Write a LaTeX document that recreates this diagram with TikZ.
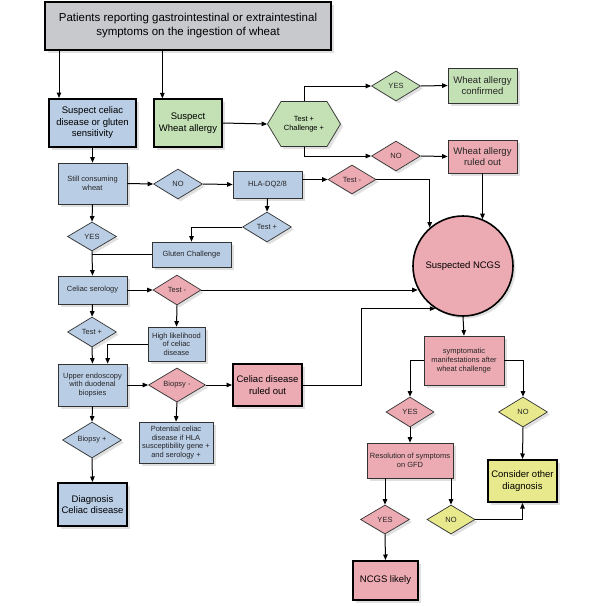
\documentclass[tikz,border=0pt]{standalone}
\usepackage{fontspec}
\setmainfont{Liberation Sans}
\usepackage{tikz}
\usetikzlibrary{shapes.geometric, shapes.symbols, arrows.meta, shadows}
\definecolor{cdblue}{RGB}{185,205,229}
\definecolor{cdpink}{RGB}{236,170,178}
\definecolor{cdgreen}{RGB}{195,225,180}
\definecolor{cdyellow}{RGB}{232,232,140}
\definecolor{cdgray}{RGB}{200,201,204}

\begin{document}
\begin{tikzpicture}[x=1pt, y=-1pt,
    boxshadow/.style={drop shadow={shadow xshift=2.5pt, shadow yshift=-2.5pt, fill=black!20, opacity=0.6}},
    proc/.style={rectangle, draw=black!80, line width=0.7pt, align=center, inner sep=1pt,
      text=black!85, font=\fontsize{7.5}{8.6}\selectfont, boxshadow},
    bigproc/.style={proc, draw=black, line width=2pt, text=black, font=\fontsize{9.5}{11.5}\selectfont},
    choice/.style={diamond, draw=black!80, line width=0.7pt, inner sep=0pt, text=black!85,
      font=\fontsize{7.5}{8.6}\selectfont, boxshadow},
    arr/.style={line width=1pt, -{Triangle[length=5.5pt, width=4.5pt]}},
    link/.style={line width=1pt}
  ]
  \useasboundingbox (0,0) rectangle (603,606);
  % entry boxes
  \node[bigproc, fill=cdgray, minimum width=286pt, minimum height=48pt,
    font=\fontsize{11.5}{14}\selectfont] (top) at (188,26)
    {Patients reporting gastrointestinal or extraintestinal\\symptoms on the ingestion of wheat};
  \node[bigproc, fill=cdblue, minimum width=87pt, minimum height=48pt] (celiac) at (92.5,123)
    {Suspect celiac\\disease or gluten\\sensitivity};
  \node[bigproc, fill=cdgreen, line width=1.3pt, minimum width=68pt, minimum height=48pt] (wheat) at (188,123)
    {Suspect\\Wheat allergy};
  % wheat allergy branch
  \node[signal, signal to=west and east, signal pointer angle=118, draw=black!80, line width=0.7pt,
    fill=cdgreen, align=center, inner sep=1pt, minimum width=73pt, minimum height=45pt,
    font=\fontsize{7.5}{8.6}\selectfont, boxshadow] (testchal) at (304,124) {Test +\\Challenge +};
  \node[choice, fill=cdgreen, minimum width=49pt, minimum height=30pt] (yesA) at (396,86) {YES};
  \node[proc, fill=cdgreen, minimum width=69pt, minimum height=35pt,
    font=\fontsize{9.5}{11.5}\selectfont] (confirmed) at (482.5,85.5) {Wheat allergy\\confirmed};
  \node[choice, fill=cdpink, minimum width=49pt, minimum height=30pt] (noA) at (396,156) {NO};
  \node[proc, fill=cdpink, minimum width=69pt, minimum height=33pt,
    font=\fontsize{9.5}{11.5}\selectfont] (wruled) at (482.5,156.5) {Wheat allergy\\ruled out};
  \node[circle, draw=black, line width=1.6pt, fill=cdpink, minimum size=100pt,
    font=\fontsize{9.5}{11.5}\selectfont, boxshadow] (ncgs) at (463,266) {Suspected NCGS};
  % celiac branch
  \node[proc, fill=cdblue, minimum width=69pt, minimum height=41pt] (still) at (92.5,183.5) {Still consuming\\wheat};
  \node[choice, fill=cdblue, minimum width=49pt, minimum height=30pt] (noB) at (178,184) {NO};
  \node[proc, fill=cdblue, minimum width=69pt, minimum height=27pt] (hla) at (267.5,184.5) {HLA-DQ2/8};
  \node[choice, fill=cdpink, minimum width=48pt, minimum height=29pt] (hlaneg) at (352,179.5) {Test -};
  \node[choice, fill=cdblue, minimum width=49pt, minimum height=30pt] (hlapos) at (267,227) {Test +};
  \node[proc, fill=cdblue, minimum width=79pt, minimum height=25pt] (gluten) at (191.5,254.5) {Gluten Challenge};
  \node[choice, fill=cdblue, minimum width=49pt, minimum height=29pt] (yesB) at (92,236.5) {YES};
  \node[proc, fill=cdblue, minimum width=69pt, minimum height=28pt] (serology) at (92.5,290) {Celiac serology};
  \node[choice, fill=cdpink, minimum width=48pt, minimum height=30pt] (serneg) at (177,290) {Test -};
  \node[choice, fill=cdblue, minimum width=49pt, minimum height=30pt] (serpos) at (92,332) {Test +};
  \node[proc, fill=cdblue, minimum width=57pt, minimum height=34pt] (likely) at (176.5,344) {High likelihood\\of celiac\\disease};
  \node[proc, fill=cdblue, minimum width=69pt, minimum height=42pt] (endo) at (92.5,385) {Upper endoscopy\\with duodenal\\biopsies};
  \node[choice, fill=cdpink, minimum width=57pt, minimum height=34pt] (biopneg) at (177,385) {Biopsy -};
  \node[bigproc, fill=cdpink, minimum width=69pt, minimum height=42pt] (cdruled) at (267.5,385) {Celiac disease\\ruled out};
  \node[proc, fill=cdblue, minimum width=74pt, minimum height=41pt] (potential) at (176,442.5)
    {Potential celiac\\disease if HLA\\susceptibility gene +\\and serology +};
  \node[choice, fill=cdblue, minimum width=59pt, minimum height=34pt] (bioppos) at (92,440) {Biopsy +};
  \node[bigproc, fill=cdblue, minimum width=69pt, minimum height=43pt] (diag) at (92.5,504.5) {Diagnosis\\Celiac disease};
  % NCGS branch
  \node[proc, fill=cdpink, minimum width=80pt, minimum height=49pt] (sympt) at (464,360.5)
    {symptomatic\\manifestations after\\wheat challenge};
  \node[choice, fill=cdpink, minimum width=48pt, minimum height=30pt] (yesC) at (410,412) {YES};
  \node[choice, fill=cdyellow, minimum width=49pt, minimum height=30pt] (noC) at (523,412) {NO};
  \node[bigproc, fill=cdyellow, minimum width=69pt, minimum height=42pt] (other) at (522.5,481) {Consider other\\diagnosis};
  \node[proc, fill=cdpink, minimum width=86pt, minimum height=35pt] (gfd) at (410,460.5) {Resolution of symptoms\\on GFD};
  \node[choice, fill=cdpink, minimum width=49pt, minimum height=29pt] (yesD) at (385,519.5) {YES};
  \node[choice, fill=cdyellow, minimum width=48pt, minimum height=29pt] (noD) at (451,519.5) {NO};
  \node[bigproc, fill=cdpink, minimum width=65pt, minimum height=39pt] (likelyncgs) at (385.5,580.5) {NCGS likely};

  % connectors
  \draw[arr] ([xshift=11pt]celiac.north west |- top.south) -- ([xshift=11pt]celiac.north west);
  \draw[arr] ([xshift=9pt]wheat.north west |- top.south) -- ([xshift=9pt]wheat.north west);
  \draw[arr] (wheat.east) -- (testchal.west);
  \draw[arr] (testchal.north) |- (yesA.west);
  \draw[arr] (yesA.east) -- (confirmed.west);
  \draw[arr] (testchal.south) |- (noA.west);
  \draw[arr] (noA.east) -- (wruled.west);
  \draw[arr] (wruled.south) -- (wruled.south |- ncgs.67.5);
  \draw[arr] (celiac.south) -- (still.north);
  \draw[arr] (still.east) -- (noB.west);
  \draw[arr] (noB.east) -- (hla.west);
  \draw[arr] (hla.east |- hlaneg.west) -- (hlaneg.west);
  \draw[arr] (hlaneg.east) -| (ncgs.131);
  \draw[arr] (hla.south) -- (hlapos.north);
  \draw[arr] (hlapos.west) -| (gluten.north);
  \draw[link] (gluten.west) -- (gluten.west -| yesB.south);
  \draw[arr] (still.south) -- (yesB.north);
  \draw[arr] (yesB.south) -- (serology.north);
  \draw[arr] (serology.east) -- (serneg.west);
  \draw[arr] (serneg.east) -- (serneg.east -| ncgs.207);
  \draw[arr] (serneg.south) -- (likely.north);
  \draw[arr] (likely.west) -| ([xshift=50pt]endo.north west);
  \draw[arr] (serology.south) -- (serpos.north);
  \draw[arr] (serpos.south) -- (endo.north);
  \draw[arr] (endo.east) -- (biopneg.west);
  \draw[arr] (biopneg.east) -- (cdruled.west);
  \draw[arr] (cdruled.east) -- ++(58,0) |- (ncgs.237);
  \draw[arr] (biopneg.south) -- (potential.north);
  \draw[arr] (endo.south) -- (bioppos.north);
  \draw[arr] (bioppos.south) -- (diag.north);
  \draw[arr] (ncgs.south) -- (sympt.north);
  \draw[arr] (sympt.west) -| (yesC.north);
  \draw[arr] (sympt.east) -| (noC.north);
  \draw[arr] (noC.south) -- (other.north);
  \draw[arr] (yesC.south) -- (gfd.north);
  \draw[arr] (yesD.north |- gfd.south) -- (yesD.north);
  \draw[arr] (noD.north |- gfd.south) -- (noD.north);
  \draw[arr] (noD.east) -| (other.south);
  \draw[arr] (yesD.south) -- (likelyncgs.north);
\end{tikzpicture}
\end{document}
